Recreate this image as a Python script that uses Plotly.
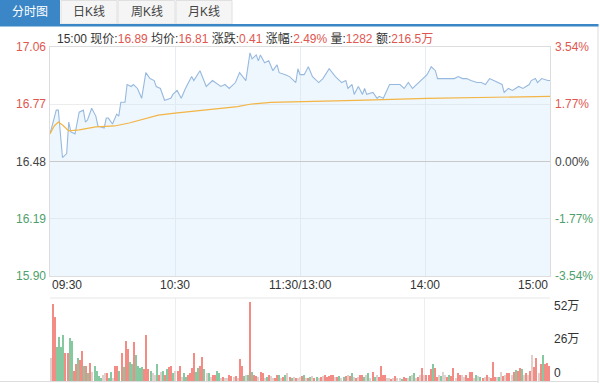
import plotly.graph_objects as go

# ---------------- data ----------------
prev_close = 16.48
price_min = [0, 3, 4, 6, 8, 9, 10, 12, 14, 16, 17, 18, 20, 22, 23, 26, 27, 28, 30, 32, 33, 34, 36, 37, 39, 40,
             42, 44, 46, 48, 50, 51, 53, 55, 58, 59, 61, 63, 65, 68, 69, 72, 75, 78, 82, 84, 86, 89, 91, 94, 96,
             97, 99, 100, 101, 103, 105, 107, 109, 110, 113, 115, 118, 119, 120, 122, 124, 126, 129, 131, 134,
             137, 140, 142, 143, 145, 146, 148, 150, 151, 152, 155, 157, 158, 160, 162, 163, 166, 168, 170, 172,
             174, 177, 179, 181, 183, 184, 185, 186, 189, 191, 194, 196, 198, 200, 202, 205, 207, 209, 211, 213,
             215, 217, 218, 220, 222, 225, 227, 230, 231, 233, 234, 236, 239, 240]
price_val = [16.62, 16.74, 16.74, 16.50, 16.52, 16.68, 16.63, 16.62, 16.73, 16.74, 16.68, 16.69, 16.75, 16.71,
             16.66, 16.65, 16.70, 16.70, 16.67, 16.72, 16.71, 16.78, 16.78, 16.87, 16.86, 16.87, 16.85, 16.80,
             16.93, 16.90, 16.89, 16.86, 16.85, 16.79, 16.80, 16.82, 16.84, 16.80, 16.85, 16.91, 16.89, 16.94,
             16.86, 16.89, 16.86, 16.87, 16.85, 16.88, 16.93, 16.89, 17.03, 17.00, 17.02, 16.99, 17.02, 16.98,
             16.99, 16.94, 16.97, 16.93, 16.92, 16.91, 16.88, 16.95, 16.92, 16.92, 16.96, 16.91, 16.88, 16.90,
             16.95, 16.91, 16.88, 16.89, 16.85, 16.87, 16.82, 16.86, 16.82, 16.85, 16.82, 16.83, 16.80, 16.81,
             16.80, 16.85, 16.87, 16.87, 16.87, 16.85, 16.88, 16.85, 16.88, 16.90, 16.92, 16.96, 16.95, 16.94,
             16.90, 16.90, 16.90, 16.90, 16.91, 16.90, 16.90, 16.89, 16.88, 16.88, 16.87, 16.90, 16.89, 16.88,
             16.87, 16.83, 16.85, 16.84, 16.86, 16.85, 16.87, 16.89, 16.90, 16.88, 16.90, 16.89, 16.89]
avg_min = [0, 2, 4, 6, 9, 14, 22, 31, 38, 46, 52, 60, 67, 80, 90, 96, 106, 147, 181, 240]
avg_val = [16.62, 16.66, 16.68, 16.665, 16.635, 16.64, 16.655, 16.66, 16.675, 16.70, 16.715, 16.725, 16.733,
           16.745, 16.758, 16.77, 16.78, 16.79, 16.80, 16.81]

volume = [18, 60, 50, 26, 34, 26, 36, 22, 22, 33, 31, 8, 13, 18, 16, 23, 12, 12, 6, 14,
          7, 12, 8, 4, 2.5, 5, 6, 6, 2, 7, 2.5, 12, 12, 8, 22, 11, 31, 25, 15, 13,
          30, 20, 12, 10, 11, 9, 36, 9, 8, 6, 4.5, 13, 5, 7, 8, 4.5, 9, 11, 12, 6,
          8, 8, 12, 3, 6, 3, 5, 6, 10, 22, 7, 10, 12, 19, 9, 6, 6, 3, 5,
          4.5, 8, 6, 2.5, 3, 2, 2.5, 4.5, 4, 3, 4, 2.5, 17, 12, 4, 4.5, 5, 61, 7, 4.5,
          4, 3, 7, 6, 2.5, 3, 4.5, 4, 2.5, 2, 4.5, 5, 2.5, 3, 4.5, 6, 3, 2.5, 3, 2,
          2.5, 3, 4, 5, 2.5, 2, 3, 3.5, 2.5, 3, 2.5, 3, 4, 4.5, 3, 4, 4.5, 4.5, 3, 3,
          4, 2.5, 3, 4, 5, 4, 6, 3, 2.5, 3, 4.5, 5, 3, 4.5, 6, 2.5, 7, 3, 5, 3, 12,
          5, 4.5, 2.5, 2, 1.5, 2, 4, 2.5, 2, 1.5, 3, 2.5, 2, 3.5, 4.5, 6, 2.5, 3.3, 5, 10,
          4.5, 4.5, 5, 9, 13, 10, 3.3, 5, 3.5, 6.6, 5, 3.3, 4.5, 4, 10, 2.5, 6, 5, 4.5, 3,
          5, 2.5, 6.6, 7, 2.5, 5, 4, 3, 2.5, 3.3, 4.5, 3, 2, 15, 3.3, 3, 3.3, 7, 4, 4.5,
          6, 6, 4.5, 7, 8.4, 7.6, 10, 9, 5, 6, 4.5, 7.6, 20, 11, 18, 6, 13, 20, 13.5, 14, 12]
vol_dir = list("nrrggggrrg" "grrgrrgrgr" "nggggnnrgg" "nrrgrgrrgg" "rggggrrrgn" "ngrngrgrrg"
               "nrrnggrrrr" "ggrrgngnr"
               "rggnrnnrrn" "rnrrgngrgr" "rnrrngrnnr" "rgnrgnrgnr" "nnrgnrgnrg" "nrnrrrrrnr"
               "gngrnrgnrn" "rrgngnrgnr" "r"
               "rrnnrnrnng" "rrngngnrnr" "nrrrgrrngn" "nrgrrnrrnn" "rrrrngngrn" "rnrrrngnrn"
               "rrnrgrrgnr" "nrnrrnrgrr" "r")

price_ticks = [17.06, 16.77, 16.48, 16.19, 15.90]
pct_labels = ["3.54%", "1.77%", "0.00%", "-1.77%", "-3.54%"]
time_ticks = [0, 60, 120, 180, 240]
time_labels = ["09:30", "10:30", "11:30/13:00", "14:00", "15:00"]
vol_ticks = [52, 26, 0]
vol_labels = ["52万", "26万", "0"]
tabs = ["分时图", "日K线", "周K线", "月K线"]
info_time = "15:00"
info_volume = "1282"
info_amount = "216.5万"

# ---------------- styling ----------------
W, H = 600, 383
RED, GREEN, DARK = "#e0574f", "#4f9f6c", "#444444"
FONT = "Liberation Sans, Noto Sans CJK SC, sans-serif"


def fx(px):
    return px / W


def fy(py):
    return 1 - py / H


def tick_color(v):
    if v > prev_close + 1e-9:
        return RED
    if v < prev_close - 1e-9:
        return GREEN
    return DARK


dir_colors = {"r": "#f28c84", "g": "#86c9a0", "n": "#dfd0cc"}
bar_colors = [dir_colors[d] for d in vol_dir]

fig = go.Figure()
fig.add_trace(go.Scatter(x=price_min, y=price_val, mode="lines",
                         line=dict(color="#98b9df", width=1.1),
                         fill="tozeroy", fillcolor="rgba(206,232,249,0.35)",
                         hoverinfo="skip", xaxis="x", yaxis="y"))
fig.add_trace(go.Scatter(x=avg_min, y=avg_val, mode="lines",
                         line=dict(color="#f3b545", width=1.2),
                         hoverinfo="skip", xaxis="x", yaxis="y"))
fig.add_trace(go.Bar(x=list(range(len(volume))), y=volume, marker_color=bar_colors,
                     marker_line_width=0, width=0.55, xaxis="x2", yaxis="y2", hoverinfo="skip"))

xdom = [fx(50), fx(550)]
fig.update_layout(
    width=W, height=H, margin=dict(l=0, r=0, t=0, b=0),
    paper_bgcolor="white", plot_bgcolor="rgba(0,0,0,0)", showlegend=False,
    font=dict(family=FONT, size=12, color=DARK),
    xaxis=dict(domain=xdom, range=[0, 240], tickvals=time_ticks[1:-1], showticklabels=False,
               showgrid=True, gridcolor="#e6ecf1", gridwidth=1, zeroline=False,
               showline=True, linecolor="#dddddd", mirror=True, anchor="y"),
    yaxis=dict(domain=[fy(276), fy(47)], range=[price_ticks[-1], price_ticks[0]],
               tickvals=price_ticks, showticklabels=False, showgrid=True, gridcolor="#ececec",
               zeroline=False, showline=True, linecolor="#dddddd", mirror=True, anchor="x"),
    xaxis2=dict(domain=xdom, range=[-0.5, 240.5], tickvals=time_ticks[1:-1], showticklabels=False,
                showgrid=True, gridcolor="#eeeeee", zeroline=False, showline=False, anchor="y2"),
    yaxis2=dict(domain=[fy(381), fy(298)], range=[0, 64.4], showticklabels=False, showgrid=False,
                zeroline=False, showline=False, anchor="x2"),
    bargap=0,
)

shapes = []
# prev close line
shapes.append(dict(type="line", xref="x", yref="y", x0=0, x1=240, y0=prev_close, y1=prev_close,
                   line=dict(color="#c9c9c9", width=1)))
# volume panel top line and baseline
shapes.append(dict(type="line", xref="paper", yref="paper", x0=fx(50), x1=fx(550), y0=fy(298), y1=fy(298),
                   line=dict(color="#e6e6e6", width=1)))
shapes.append(dict(type="line", xref="paper", yref="paper", x0=0, x1=fx(598), y0=fy(381.5), y1=fy(381.5),
                   line=dict(color="#dddddd", width=1)))
# widget right border
shapes.append(dict(type="line", xref="paper", yref="paper", x0=fx(598), x1=fx(598), y0=fy(26), y1=fy(383),
                   line=dict(color="#dddddd", width=1)))
# tabs
tab_edges = [(0, 60), (61, 117), (118, 175), (176, 232)]
for i, (a, b) in enumerate(tab_edges):
    if i == 0:
        shapes.append(dict(type="rect", xref="paper", yref="paper", x0=fx(a), x1=fx(b), y0=fy(25), y1=fy(0),
                           fillcolor="#3a86c6", line=dict(width=0), layer="above"))
    else:
        shapes.append(dict(type="rect", xref="paper", yref="paper", x0=fx(a), x1=fx(b), y0=fy(24), y1=fy(0.5),
                           fillcolor="#f5f5f5", line=dict(color="#e0e0e0", width=1), layer="above"))
shapes.append(dict(type="rect", xref="paper", yref="paper", x0=0, x1=fx(598.5), y0=fy(26.5), y1=fy(24),
                   fillcolor="#3a86c6", line=dict(width=0), layer="above"))
fig.update_layout(shapes=shapes)

ann = []
for i, (a, b) in enumerate(tab_edges):
    ann.append(dict(text=tabs[i], xref="paper", yref="paper", x=fx((a + b) / 2), y=fy(12.5),
                    showarrow=False, xanchor="center", yanchor="middle",
                    font=dict(size=12, color="white" if i == 0 else "#444444")))

last_price = price_val[-1]
last_avg = avg_val[-1]
change = last_price - prev_close
pct = change / prev_close * 100


def red(s):
    return f"<span style='color:{RED}'>{s}</span>"


info = (f"{info_time} 现价:{red(f'{last_price:.2f}')} 均价:{red(f'{last_avg:.2f}')} "
        f"涨跌:{red(f'{change:.2f}')} 涨幅:{red(f'{pct:.2f}%')} 量:{red(info_volume)} 额:{red(info_amount)}")
ann.append(dict(text=info, xref="paper", yref="paper", x=fx(55), y=fy(38), showarrow=False,
                xanchor="left", yanchor="middle", font=dict(size=12, color="#333333")))

for v, p in zip(price_ticks, pct_labels):
    c = tick_color(v)
    ann.append(dict(text=f"{v:.2f}", xref="paper", yref="y", x=fx(48), y=v, showarrow=False,
                    xanchor="right", yanchor="middle", font=dict(size=12, color=c)))
    ann.append(dict(text=p, xref="paper", yref="y", x=fx(553), y=v, showarrow=False,
                    xanchor="left", yanchor="middle", font=dict(size=12, color=c)))

for t, lab in zip(time_ticks, time_labels):
    anchor = "left" if t == time_ticks[0] else ("right" if t == time_ticks[-1] else "center")
    ann.append(dict(text=lab, xref="x", yref="paper", x=t, y=fy(285), showarrow=False,
                    xanchor=anchor, yanchor="middle", font=dict(size=12, color="#333333")))

for v, lab in zip(vol_ticks, vol_labels):
    ann.append(dict(text=lab, xref="paper", yref="y2", x=fx(552), y=v, showarrow=False,
                    xanchor="left", yanchor="bottom", yshift=-1, font=dict(size=12, color="#333333")))

fig.update_layout(annotations=ann)
fig.write_html("out.html", config={"displayModeBar": False},
               post_script="document.body.style.margin='0';document.body.style.overflow='hidden';")
